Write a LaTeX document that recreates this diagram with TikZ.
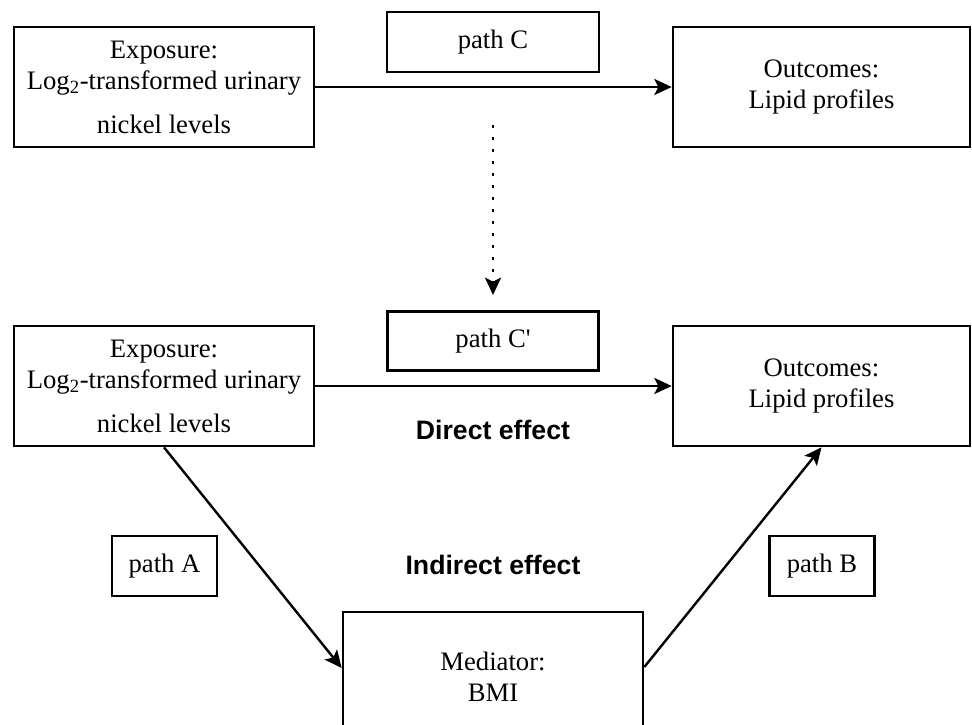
\documentclass[tikz,border=0pt]{standalone}
\usepackage{fontspec}
\setmainfont{Liberation Serif}
\setsansfont{Liberation Sans}
\usepackage{tikz}
\usetikzlibrary{arrows.meta}
\usetikzlibrary{shapes}

\tikzset{
  bigbox/.style={draw, line width=2pt, inner sep=0pt, align=center,
    minimum width=225pt, minimum height=90pt,
    font=\fontsize{20}{23.25}\selectfont},
  pathbox/.style={draw, line width=2pt, inner sep=0pt, align=center,
    minimum height=45pt, font=\fontsize{20}{24}\selectfont},
  effect/.style={font=\sffamily\bfseries\fontsize{20}{24}\selectfont},
  link/.style={line width=1.8pt, -{Stealth[length=13pt, width=12pt, inset=3pt]}}
}

\begin{document}
\begin{tikzpicture}[x=0.75pt, y=-0.75pt]
          \clip (0, 0) rectangle (972, 725);
          \fill[white] (0, 0) rectangle (972, 725);
          % total effect
          \node[bigbox] (expo1) at (164, 87) {Exposure:\\Log\textsubscript{2}-transformed urinary\\[9.75pt]nickel levels};
          \node[bigbox, minimum width=222.75pt] (outc1) at (821.5, 87) {Outcomes:\\Lipid profiles};
          \node[pathbox, minimum width=159pt] (pathc) at (493, 42) {path C};
          \draw[link] (expo1.east) -- (outc1.west);
          \coordinate (dtop) at (493, 125);
          \coordinate (dend) at (493, 295);
          \draw[link, line width=2.2pt, dash pattern=on 2.2pt off 6.8pt] (dtop) -- (dend);
          % direct and indirect effect
          \node[bigbox] (expo2) at (164, 386) {Exposure:\\Log\textsubscript{2}-transformed urinary\\[9.75pt]nickel levels};
          \node[bigbox, minimum width=222.75pt] (outc2) at (821.5, 386) {Outcomes:\\Lipid profiles};
          \node[pathbox, minimum width=158.25pt, minimum height=44.25pt] (pathcc) at (493, 341) {path C\textquotesingle};
          \node[bigbox, minimum height=97.5pt] (med) at (493, 677) {Mediator:\\BMI};
          \node[pathbox, minimum width=78.75pt] (patha) at (164.5, 566) {path A};
          \node[pathbox, minimum width=78.75pt] (pathb) at (822, 566) {path B};
          \node[effect] (direct) at (493, 430) {Direct effect};
          \node[effect] (indirect) at (493, 565) {Indirect effect};
          \draw[link] (expo2.east) -- (outc2.west);
          \draw[link] (expo2.south) -- ([yshift=6.75pt]med.west);
          \draw[link] ([yshift=7.5pt]med.east) -- (outc2.south);
        \end{tikzpicture}
\end{document}
